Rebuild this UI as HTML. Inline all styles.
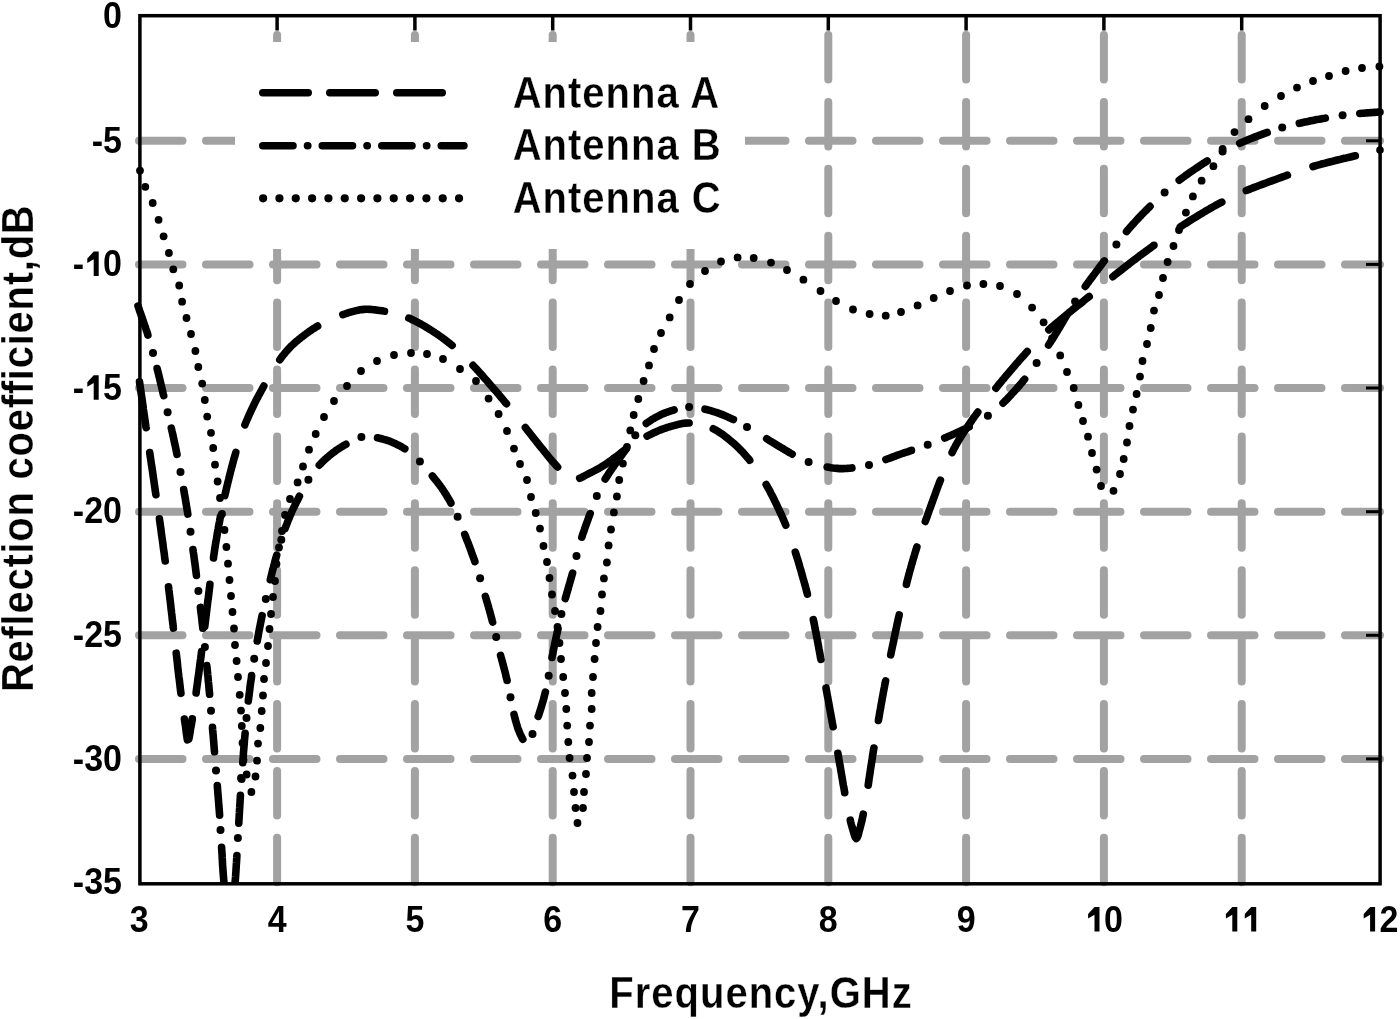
<!DOCTYPE html>
<html><head><meta charset="utf-8"><style>
html,body{margin:0;padding:0;background:#fff;}
svg{display:block;will-change:transform;}
text{font-family:"Liberation Sans",sans-serif;font-weight:bold;fill:#000;}
</style></head><body>
<svg width="1400" height="1019" viewBox="0 0 1400 1019">
<rect width="1400" height="1019" fill="#fff"/>
<g stroke="#a2a2a2" stroke-width="8" fill="none" stroke-linecap="round">
<g stroke-dasharray="43.5 23.5"><path d="M139,140.8 H1380"/><path d="M139,264.4 H1380"/><path d="M139,388.0 H1380"/><path d="M139,511.7 H1380"/><path d="M139,635.3 H1380"/><path d="M139,758.9 H1380"/></g>
<g stroke-dasharray="44.5 22.4"><path d="M277.1,35 V884"/><path d="M414.9,35 V884"/><path d="M552.7,35 V884"/><path d="M690.5,35 V884"/><path d="M828.3,35 V884"/><path d="M966.1,35 V884"/><path d="M1103.9,35 V884"/><path d="M1241.7,35 V884"/></g>
</g>
<rect x="235" y="42" width="510" height="207" fill="#fff"/>
<g stroke="#000" stroke-width="3.5" fill="none">
<path d="M277.1,16 V30.5"/><path d="M414.9,16 V30.5"/><path d="M552.7,16 V30.5"/><path d="M690.5,16 V30.5"/><path d="M828.3,16 V30.5"/><path d="M966.1,16 V30.5"/><path d="M1103.9,16 V30.5"/><path d="M1241.7,16 V30.5"/><path stroke-width="3" d="M1380,140.8 H1366"/><path stroke-width="3" d="M1380,264.4 H1366"/><path stroke-width="3" d="M1380,388.0 H1366"/><path stroke-width="3" d="M1380,511.7 H1366"/><path stroke-width="3" d="M1380,635.3 H1366"/><path stroke-width="3" d="M1380,758.9 H1366"/>
</g>
<clipPath id="pc"><rect x="125" y="10" width="1270" height="875"/></clipPath>
<g clip-path="url(#pc)">
<g fill="none" stroke="#000" stroke-width="7.6" stroke-linecap="round" stroke-linejoin="round"><path d="M139.5,381.8L139.8,383.9L140.1,385.9L140.4,388.0L140.7,390.1L141.0,392.1L141.3,394.2L141.6,396.3L141.9,398.3L142.2,400.4L142.5,402.5L142.8,404.5L143.1,406.6L143.3,408.7L143.6,410.7L143.9,412.8L144.2,414.9L144.5,416.9L144.8,419.0L145.1,421.1L145.4,423.2L145.7,425.2L146.0,427.3L146.1,427.6"/><path d="M149.7,452.6L150.0,454.5L150.3,456.6L150.6,458.7L150.9,460.8L151.2,462.9L151.5,465.0L151.9,467.1L152.2,469.2L152.5,471.3L152.8,473.4L153.1,475.5L153.4,477.6L153.7,479.7L154.0,481.8L154.3,483.8L154.6,485.9L154.9,488.0L155.2,490.1L155.5,492.2L155.8,494.3L155.9,494.7"/><path d="M159.4,518.8L159.8,521.5L160.1,523.6L160.4,525.7L160.7,527.8L161.0,529.9L161.2,532.0L161.5,534.1L161.8,536.2L162.1,538.3L162.4,540.3L162.7,542.4L163.0,544.5L163.2,546.6L163.5,548.7L163.8,550.8L164.1,552.8L164.4,554.9L164.6,557.0L164.9,559.1L165.2,561.0"/><path d="M168.5,586.8L168.9,590.3L169.2,592.4L169.4,594.5L169.7,596.6L169.9,598.6L170.2,600.7L170.4,602.8L170.7,604.9L170.9,607.0L171.1,609.1L171.4,611.1L171.6,613.2L171.9,615.3L172.1,617.3L172.3,619.4L172.6,621.4L172.8,623.5L173.1,625.5L173.3,627.5L173.4,628.1"/><path d="M176.2,653.2L176.5,655.3L176.7,657.1L176.9,658.9L177.1,660.7L177.3,662.4L177.5,664.2L177.6,665.9L177.8,667.6L178.0,669.3L178.2,671.0L178.4,672.6L178.6,674.2L178.9,677.0L179.3,679.7L179.6,682.3L179.9,684.9L180.2,687.5L180.5,690.0L180.8,692.6L180.9,693.3"/><path d="M184.4,719.0L184.6,720.6L184.9,722.2L185.1,723.9L185.4,725.5L185.7,727.8L185.9,729.4L186.1,731.1L186.3,732.8L186.6,734.5L186.8,736.1L187.1,738.2L187.4,739.8L188.8,739.1L189.2,737.3L189.6,735.2L189.8,733.7L190.1,732.2L190.3,730.7L190.6,728.5L191.0,726.6L191.4,724.6L191.7,722.6L192.1,720.5L192.3,718.7"/><path d="M196.1,693.0L196.3,691.0L196.6,689.0L196.9,686.9L197.2,684.7L197.5,682.4L197.8,680.1L198.1,677.8L198.5,675.4L198.8,673.1L199.1,670.7L199.4,668.3L199.7,665.9L200.0,663.6L200.3,661.2L200.7,658.8L201.0,656.3L201.3,653.8L201.6,651.6"/><path d="M204.8,626.3L205.1,623.8L205.4,621.3L205.7,618.8L206.0,616.3L206.3,613.8L206.6,611.3L206.9,608.7L207.2,606.2L207.5,603.7L207.8,601.2L208.2,598.7L208.5,596.2L208.8,593.7L209.1,591.2L209.4,588.7L209.7,586.2L209.9,584.4"/><path d="M213.5,558.0L213.7,556.2L214.1,553.7L214.5,551.2L214.8,548.7L215.2,546.2L215.6,543.7L216.0,541.2L216.5,538.7L216.9,536.2L217.3,533.7L217.7,531.2L218.2,528.7L218.6,526.2L219.1,523.7L219.6,521.2L220.0,518.7L220.5,516.2L220.6,515.9"/><path d="M224.8,495.6L225.2,493.9L225.8,491.5L226.3,489.0L226.9,486.6L227.5,484.1L228.1,481.7L228.7,479.3L229.2,477.0L229.8,474.7L230.4,472.4L231.0,470.1L231.6,467.8L232.2,465.5L232.8,463.2L233.4,461.0L234.0,458.7L234.7,456.5L235.3,454.2L235.8,452.5"/><path d="M244.9,424.9L245.8,422.6L246.6,420.7L247.5,418.7L248.3,416.8L249.2,414.9L250.0,413.0L250.9,411.1L251.8,409.2L252.7,407.3L253.6,405.4L254.5,403.5L255.5,401.6L256.4,399.7L257.4,397.9L258.4,396.0L259.4,394.2L260.4,392.3L261.4,390.5L262.4,388.7L263.4,386.8L263.8,386.1"/><path d="M279.8,359.7L280.9,358.2L281.9,356.8L283.0,355.4L284.1,354.1L285.2,352.7L286.3,351.4L287.5,350.1L288.6,348.9L289.8,347.6L290.9,346.4L292.1,345.3L293.3,344.2L294.5,343.1L295.7,342.0L296.9,340.9L298.2,339.9L299.4,338.9L300.7,337.9L301.9,336.9L303.2,335.9L304.5,334.9L305.8,334.0L307.1,333.0L308.4,332.1L309.7,331.2L311.0,330.3L312.3,329.4L313.7,328.5L315.0,327.7L316.4,326.8L317.6,326.1"/><path d="M342.9,314.7L344.9,314.0L346.8,313.3L348.7,312.7L350.5,312.1L352.4,311.6L354.4,311.1L356.3,310.6L358.2,310.2L360.1,309.8L362.0,309.6L364.0,309.4L365.9,309.3L367.9,309.3L369.9,309.4L371.8,309.5L373.8,309.7L375.8,309.9L377.8,310.2L379.8,310.5L381.7,310.8L383.7,311.1L384.5,311.2"/><path d="M408.8,318.1L410.5,318.8L412.4,319.7L414.3,320.6L416.2,321.6L418.2,322.6L420.1,323.6L422.0,324.7L423.9,325.8L425.8,326.9L427.6,328.0L429.5,329.2L431.4,330.4L433.3,331.6L435.2,332.9L437.1,334.1L439.1,335.5L441.0,336.8L442.9,338.2L444.7,339.6L446.6,341.0L448.4,342.4L450.2,343.8L452.0,345.3L452.1,345.4"/><path d="M473.0,365.4L474.5,367.0L476.1,368.7L477.6,370.3L479.1,372.0L480.6,373.7L482.2,375.4L483.7,377.2L485.2,378.9L486.7,380.6L488.2,382.3L489.6,384.0L491.1,385.7L492.6,387.4L494.0,389.1L495.5,390.7L496.9,392.4L498.4,394.1L499.8,395.8L501.2,397.5L502.6,399.2L504.0,400.9L505.4,402.6L506.5,403.8"/><path d="M525.4,427.6L526.5,429.0L527.9,430.8L529.4,432.7L530.8,434.5L532.3,436.4L533.8,438.3L535.3,440.2L536.7,442.0L538.2,443.8L539.6,445.6L541.0,447.4L542.5,449.1L543.9,450.9L545.3,452.7L546.7,454.4L548.1,456.2L549.5,457.9L550.9,459.6L552.3,461.2L553.6,462.7L555.0,464.2L556.3,465.6L557.6,467.0"/><path d="M579.7,478.2L581.6,477.4L583.4,476.5L585.2,475.5L587.1,474.5L588.8,473.6L590.6,472.7L592.3,471.9L594.0,471.0L595.7,470.1L597.4,469.2L599.1,468.3L600.8,467.3L602.4,466.3L604.0,465.3L605.7,464.2L607.3,463.1L608.8,462.0L610.4,460.9L612.0,459.7L613.5,458.5L615.1,457.4L616.7,456.2L618.3,455.0L619.9,453.8L621.5,452.5L623.0,451.3L624.7,450.0L625.9,449.1"/><path d="M647.1,436.1L649.2,435.0L651.0,434.2L652.7,433.3L654.5,432.5L656.3,431.7L658.1,430.9L660.0,430.1L661.8,429.4L663.7,428.7L665.5,428.1L667.4,427.4L669.2,426.9L671.0,426.3L672.9,425.8L674.7,425.3L676.6,424.8L678.5,424.3L680.4,423.9L682.3,423.6L684.2,423.3L686.0,423.1L687.9,423.0L689.1,423.0"/><path d="M713.3,428.8L714.9,429.7L716.8,430.7L718.6,431.8L720.4,433.0L722.2,434.2L724.0,435.5L725.7,436.9L727.5,438.2L729.2,439.6L730.8,441.0L732.5,442.4L734.2,443.8L735.8,445.3L737.4,446.8L739.0,448.4L740.6,450.0L742.2,451.6L743.7,453.3L745.2,455.0L746.7,456.7L748.1,458.3L749.6,460.0L749.7,460.2"/><path d="M766.2,484.6L767.0,486.0L768.0,487.9L769.1,489.7L770.1,491.6L771.0,493.5L772.0,495.3L773.0,497.2L773.9,499.1L774.8,501.0L775.8,502.9L776.7,504.9L777.6,506.8L778.5,508.7L779.4,510.6L780.3,512.6L781.2,514.5L782.1,516.5L782.9,518.4L783.8,520.4L784.6,522.3L785.4,524.3L785.8,525.2"/><path d="M795.3,552.1L795.9,554.0L796.5,555.9L797.1,557.8L797.7,559.7L798.3,561.6L798.8,563.5L799.4,565.4L799.9,567.3L800.5,569.2L801.1,571.1L801.6,573.0L802.1,575.0L802.7,576.9L803.2,578.8L803.8,580.7L804.3,582.6L804.8,584.5L805.4,586.4L805.9,588.4L806.4,590.3L806.9,592.2L807.4,594.1"/><path d="M813.3,619.6L813.8,621.9L814.2,623.8L814.6,625.7L814.9,627.7L815.3,629.6L815.7,631.5L816.1,633.4L816.4,635.3L816.8,637.3L817.2,639.2L817.5,641.1L817.9,643.0L818.2,644.9L818.6,646.8L818.9,648.7L819.3,650.6L819.6,652.5L820.0,654.4L820.3,656.3L820.6,658.2L820.9,659.4"/><path d="M826.0,687.9L826.3,689.8L826.7,691.7L827.0,693.5L827.3,695.3L827.7,697.2L828.0,699.0L828.3,700.8L828.7,702.7L829.0,704.5L829.3,706.3L829.7,708.2L830.0,710.0L830.3,711.8L830.7,713.6L831.0,715.4L831.3,717.3L831.7,719.1L832.0,720.9L832.3,722.7L832.7,724.5L833.0,726.3L833.1,726.7"/><path d="M837.9,753.3L838.2,755.1L838.5,756.9L838.8,758.7L839.1,760.5L839.4,762.3L839.7,764.1L840.1,765.9L840.4,767.7L840.7,769.5L841.0,771.3L841.3,773.1L841.6,774.9L841.9,776.6L842.2,778.4L842.5,780.2L842.8,782.0L843.1,783.8L843.4,785.5L843.8,787.3L844.1,789.0L844.4,790.8L844.7,792.5L844.7,792.8"/><path d="M850.3,820.2L850.7,822.1L851.2,824.0L851.7,825.7L852.2,827.5L852.7,829.1L853.2,831.0L853.7,832.5L854.1,834.0L854.7,835.8L855.3,837.4L856.3,838.6L857.3,837.4L858.0,835.6L858.5,833.9L858.9,832.1L859.4,830.2L859.9,828.4L860.4,826.7L860.9,824.7L861.4,822.6L861.9,820.5L862.4,818.3L862.7,816.8L863.1,815.3L863.3,814.2"/><path d="M868.2,785.2L868.5,783.1L868.8,781.2L869.0,779.4L869.3,777.5L869.6,775.6L869.9,773.7L870.2,771.9L870.4,770.0L870.7,768.1L871.0,766.2L871.3,764.4L871.6,762.5L871.9,760.7L872.2,758.8L872.4,757.0L872.7,755.1L873.0,753.3L873.3,751.4L873.6,749.6L873.9,748.0"/><path d="M878.4,720.4L878.8,718.3L879.1,716.5L879.4,714.7L879.7,712.8L880.0,711.0L880.4,709.2L880.7,707.3L881.0,705.5L881.3,703.7L881.7,701.8L882.0,700.0L882.3,698.2L882.7,696.3L883.0,694.5L883.3,692.7L883.7,690.8L884.0,689.0L884.4,687.2L884.7,685.3L885.1,683.5L885.4,681.7L885.6,681.0"/><path d="M890.7,654.9L891.1,653.2L891.4,651.4L891.8,649.5L892.2,647.7L892.6,645.8L893.0,644.0L893.4,642.1L893.8,640.3L894.1,638.4L894.5,636.5L894.9,634.7L895.3,632.8L895.7,630.9L896.1,629.1L896.5,627.2L896.9,625.3L897.3,623.4L897.7,621.6L898.1,619.7L898.5,617.8L899.0,615.9L899.2,614.9"/><path d="M906.4,584.3L906.9,582.1L907.4,580.2L907.9,578.3L908.4,576.4L908.9,574.5L909.4,572.6L909.9,570.7L910.5,568.8L911.0,566.9L911.5,565.1L912.1,563.2L912.6,561.3L913.1,559.4L913.7,557.5L914.3,555.6L914.8,553.8L915.4,551.9L916.0,550.0L916.5,548.2L916.9,547.0"/><path d="M925.3,521.5L925.9,519.9L926.5,518.1L927.2,516.3L927.8,514.4L928.5,512.6L929.1,510.8L929.8,508.9L930.5,507.1L931.1,505.3L931.8,503.4L932.5,501.6L933.1,499.8L933.8,497.9L934.5,496.0L935.2,494.2L935.8,492.3L936.5,490.4L937.2,488.5L937.9,486.7L938.6,484.8L939.3,483.0L940.0,481.1L940.4,480.2"/><path d="M952.1,452.5L953.0,450.7L954.0,448.7L955.1,446.8L956.1,444.8L957.2,442.9L958.3,441.0L959.4,439.1L960.6,437.2L961.7,435.4L962.9,433.6L964.1,431.7L965.4,429.9L966.2,428.6L967.1,427.4L968.0,426.0L968.9,424.6L969.9,423.2L970.9,421.8L971.9,420.3L972.9,418.9L973.9,417.4L975.0,416.0L976.0,414.5L977.1,413.1L977.8,412.1"/><path d="M995.9,388.2L997.0,386.9L998.3,385.2L999.7,383.5L1001.1,381.8L1002.5,380.1L1004.0,378.4L1005.4,376.7L1006.8,375.0L1008.3,373.3L1009.7,371.6L1011.1,369.9L1012.6,368.2L1014.1,366.5L1015.5,364.8L1017.0,363.1L1018.5,361.4L1019.9,359.7L1021.4,358.0L1022.9,356.4L1024.4,354.7L1025.9,353.0L1027.2,351.6"/><path d="M1048.8,329.8L1050.6,328.2L1052.3,326.7L1054.1,325.2L1055.9,323.6L1057.7,322.1L1059.5,320.6L1061.3,319.1L1063.1,317.6L1064.9,316.1L1066.7,314.6L1068.5,313.1L1070.4,311.6L1072.2,310.1L1074.1,308.6L1075.9,307.1L1077.8,305.6L1079.6,304.2L1081.5,302.7L1083.4,301.2L1085.2,299.7L1087.0,298.2L1088.9,296.7L1089.2,296.5"/><path d="M1112.9,276.7L1114.7,275.2L1116.5,273.7L1118.3,272.3L1120.1,270.9L1122.0,269.4L1123.8,268.0L1125.7,266.5L1127.5,265.1L1129.4,263.7L1131.2,262.2L1133.1,260.8L1135.0,259.4L1136.8,258.0L1138.7,256.6L1140.6,255.1L1142.5,253.7L1144.5,252.3L1146.4,250.9L1148.3,249.5L1150.2,248.1L1152.1,246.7L1154.0,245.4L1154.0,245.3"/><path d="M1180.3,226.9L1182.2,225.6L1184.1,224.4L1186.0,223.2L1187.9,222.0L1189.8,220.7L1191.7,219.5L1193.7,218.3L1195.6,217.2L1197.5,216.0L1199.4,214.8L1201.3,213.7L1203.2,212.6L1205.1,211.4L1207.0,210.3L1208.9,209.2L1210.8,208.1L1212.7,207.0L1214.6,206.0L1216.5,204.9L1218.4,203.9L1220.3,202.9L1221.8,202.1"/><path d="M1246.3,190.5L1248.6,189.6L1250.5,188.9L1252.3,188.1L1254.2,187.4L1256.1,186.7L1257.9,186.0L1259.8,185.3L1261.7,184.6L1263.6,183.9L1265.5,183.2L1267.3,182.5L1269.2,181.8L1271.1,181.1L1273.1,180.4L1275.0,179.7L1276.9,179.0L1278.8,178.3L1280.7,177.6L1282.6,176.9L1284.5,176.2L1286.4,175.5L1287.4,175.2"/><path d="M1313.0,166.5L1314.8,166.0L1316.8,165.4L1318.7,164.9L1320.7,164.3L1322.7,163.8L1324.6,163.3L1326.6,162.8L1328.6,162.3L1330.6,161.8L1332.5,161.3L1334.5,160.8L1336.5,160.3L1338.5,159.8L1340.4,159.3L1342.4,158.8L1344.4,158.3L1346.4,157.9L1348.4,157.4L1350.4,157.0L1352.4,156.5L1354.3,156.0L1355.3,155.8"/><path d="M1380.0,150.0L1380.0,150.0"/><path d="M138.0,306.0L138.9,308.5L139.7,311.0L140.6,313.6L141.5,316.1L142.4,318.6L143.2,321.1L144.1,323.7L145.0,326.2L145.8,328.7L146.7,331.2L147.5,333.7L147.9,335.1"/><path d="M157.1,368.5L157.6,370.6L158.3,373.2L158.9,375.8L159.6,378.5L160.2,381.1L160.8,383.8L161.5,386.4L162.1,389.1L162.7,391.7L163.3,394.4L163.7,395.7"/><path d="M171.3,428.1L171.9,430.8L172.5,433.2L173.0,435.7L173.6,438.2L174.1,440.7L174.6,443.2L175.2,445.6L175.7,448.1L176.2,450.6L176.7,453.0L177.0,454.4"/><path d="M183.7,489.5L184.0,491.4L184.4,493.9L184.9,496.3L185.3,498.7L185.7,501.2L186.1,503.6L186.5,506.0L186.9,508.5L187.3,510.9L187.7,513.3L187.8,514.1"/><path d="M193.0,549.6L193.3,552.0L193.7,554.5L194.0,556.9L194.3,559.3L194.6,561.7L195.0,564.1L195.3,566.5L195.6,569.0L195.9,571.4L196.2,573.8L196.4,575.4"/><path d="M200.4,607.4L200.7,610.0L201.0,612.5L201.3,614.9L201.6,617.3L201.9,619.7L202.1,622.1L202.4,624.5L202.7,626.9L202.8,628.3"/><path d="M206.8,665.6L207.0,667.2L207.2,669.7L207.5,672.1L207.7,674.6L208.0,677.1L208.2,679.6L208.4,682.1L208.7,684.5L208.9,687.0L209.1,689.5L209.4,692.0L209.6,694.3"/><path d="M212.5,727.4L212.6,729.5L212.8,732.0L213.1,734.5L213.3,737.0L213.5,739.5L213.7,742.0L213.9,744.5L214.1,747.0L214.3,749.5L214.5,751.8"/><path d="M217.3,785.5L217.4,787.0L217.6,789.5L217.8,792.0L218.0,794.5L218.2,797.0L218.4,799.5L218.6,802.1L218.8,804.6L219.0,807.1L219.2,809.7L219.4,812.2L219.6,814.9L219.6,815.2"/><path d="M221.6,847.3L221.7,849.4L221.9,852.3L222.1,855.1L222.2,857.9L222.4,860.8L222.5,863.6L222.7,866.4L222.9,869.2L223.1,871.9L223.3,874.6L223.5,877.2L223.7,879.6L223.9,881.8L224.1,884.0L224.2,886.1L224.4,888.3L224.7,890.4L224.9,892.4L225.1,894.5L225.3,896.5L225.6,898.5L225.8,900.4L225.9,901.2"/><path d="M233.1,901.2L233.3,899.6L233.5,897.9L233.7,896.1L233.9,894.3L234.1,892.4L234.3,890.6L234.5,888.7L234.7,886.8L234.8,884.9L235.0,883.0L235.2,881.0L235.4,878.7L235.6,876.5L235.7,874.2L235.9,871.9L236.0,869.5L236.2,867.2L236.3,864.8L236.5,862.5L236.6,860.1L236.8,857.7L236.9,855.6"/><path d="M238.8,823.1L238.9,820.6L239.1,818.1L239.2,815.6L239.4,813.0L239.5,810.5L239.7,808.0L239.8,805.4L240.0,802.9L240.1,800.4L240.3,797.9L240.4,795.4L240.4,795.3"/><path d="M242.8,762.7L242.9,761.2L243.1,758.7L243.3,756.3L243.4,753.8L243.6,751.3L243.8,748.8L244.0,746.4L244.2,743.9L244.4,741.5L244.6,739.0L244.8,736.5L245.1,734.1L245.1,733.3"/><path d="M248.3,701.0L248.5,699.3L248.8,697.0L249.1,694.8L249.4,692.5L249.7,690.3L249.9,688.1L250.2,685.8L250.5,683.6L250.8,681.4L251.2,679.2L251.5,677.0L251.6,675.6"/><path d="M257.2,641.0L257.5,639.4L257.9,637.3L258.3,635.2L258.6,633.2L259.0,631.1L259.4,629.0L259.8,627.0L260.2,625.0L260.6,623.0L261.0,621.0L261.4,619.0L261.8,617.0L262.1,615.6"/><path d="M270.3,579.7L270.8,577.7L271.3,575.6L271.8,573.6L272.3,571.5L272.9,569.4L273.4,567.3L273.9,565.3L274.5,563.2L275.0,561.1L275.6,559.1L276.2,557.0L276.7,555.2"/><path d="M285.2,528.4L285.7,526.8L286.4,525.1L287.1,523.3L287.7,521.6L288.4,519.9L289.1,518.2L289.8,516.5L290.5,514.8L291.2,513.2L291.9,511.6L292.6,510.0L293.3,508.5L294.0,507.1L294.7,505.7L295.4,504.2L296.1,502.8L296.8,501.4L297.5,500.1L298.2,498.7L298.9,497.3L299.4,496.3"/><path d="M319.3,465.1L320.5,463.9L321.6,462.7L322.7,461.6L323.8,460.5L325.0,459.4L326.2,458.4L327.4,457.3L328.6,456.3L329.8,455.2L331.1,454.2L332.3,453.3L333.6,452.3L335.0,451.3L336.3,450.3L337.7,449.4L339.0,448.5L340.4,447.6L341.8,446.7L343.2,445.9L344.6,445.0L345.9,444.3"/><path d="M377.5,437.8L379.5,438.2L381.5,438.7L383.6,439.3L385.6,439.9L387.7,440.5L389.7,441.2L391.6,442.0L393.7,442.9L395.7,443.8L397.7,444.8L399.1,445.5L400.4,446.2L401.7,446.9L403.6,448.1L404.8,448.8"/><path d="M432.4,476.0L433.7,477.6L434.7,478.9L435.7,480.1L436.7,481.3L437.7,482.6L438.7,483.9L439.7,485.2L440.6,486.5L441.6,487.8L442.5,489.2L443.5,490.6L444.4,492.1L445.4,493.6L446.4,495.1L447.3,496.7L448.2,498.2L449.2,499.8L450.1,501.4L450.9,503.0L450.9,503.0"/><path d="M464.7,534.4L465.4,536.1L466.0,537.7L466.6,539.3L467.2,540.8L467.9,542.4L468.5,544.0L469.1,545.6L469.7,547.2L470.3,548.8L470.9,550.4L471.4,552.1L472.0,553.7L472.6,555.3L473.2,556.9L473.8,558.6L474.4,560.2L474.9,561.6"/><path d="M485.4,596.5L486.0,598.5L486.5,600.2L487.0,601.8L487.5,603.5L488.0,605.2L488.5,606.9L488.9,608.5L489.4,610.2L489.8,611.8L490.3,613.3L490.7,614.9L491.1,616.4L491.5,618.0L491.9,619.5L492.3,621.0L492.6,622.0"/><path d="M500.6,655.5L501.1,657.4L501.6,658.9L502.0,660.4L502.4,661.9L502.8,663.4L503.2,665.0L503.6,666.5L504.0,668.0L504.4,669.5L504.8,671.1L505.2,672.6L505.6,674.2L505.9,675.7L506.3,677.2L506.7,678.8L507.1,680.4L507.1,680.5"/><path d="M514.0,714.4L514.6,716.7L515.0,718.3L515.4,720.0L515.9,721.6L516.3,723.2L516.8,724.8L517.3,726.3L517.7,727.8L518.4,729.6L519.1,731.3L519.7,732.9L520.4,734.5L521.1,736.0L521.8,737.4L522.5,738.8L522.8,739.2"/><path d="M538.2,716.4L538.9,714.5L539.5,712.6L540.1,710.7L540.7,708.8L541.3,706.8L541.9,704.8L542.5,702.7L543.0,701.2L543.4,699.7L543.8,698.2L544.2,696.7L544.6,695.1L545.0,693.6L545.4,692.1"/><path d="M552.0,657.4L552.3,655.7L552.7,654.0L553.0,652.3L553.3,650.6L553.7,649.0L554.0,647.3L554.4,645.6L554.7,643.9L555.0,642.3L555.4,640.7L555.7,639.1L556.1,637.5L556.4,635.9L556.8,634.3L557.2,632.7L557.5,631.1L557.9,629.5L558.0,629.1"/><path d="M565.3,598.5L565.7,597.0L566.2,595.5L566.6,594.0L567.0,592.5L567.5,591.0L567.9,589.5L568.3,588.1L568.7,586.6L569.3,584.5L569.9,582.5L570.4,580.6L571.0,578.6L571.6,576.7L572.1,574.7L572.6,573.1"/><path d="M581.8,537.2L582.4,535.5L583.0,533.5L583.7,531.6L584.4,529.7L585.0,527.7L585.7,525.8L586.4,523.9L587.1,522.0L587.8,520.2L588.4,518.3L589.1,516.4L589.8,514.6L590.2,513.6"/><path d="M605.2,479.1L606.2,477.5L607.1,476.1L608.0,474.7L608.9,473.2L609.9,471.8L610.9,470.4L611.8,469.0L612.8,467.6L613.8,466.2L614.7,464.8L615.7,463.4L616.7,462.0L617.7,460.6L618.7,459.3L619.7,457.9L620.7,456.5L621.7,455.1L622.7,453.8L623.6,452.4L624.6,451.1L625.6,449.8L626.0,449.2"/><path d="M646.3,423.4L647.8,422.3L649.6,421.1L651.5,419.8L652.8,419.0L654.1,418.3L655.4,417.5L656.7,416.8L658.7,415.8L660.6,414.8L662.6,413.9L664.6,413.1L666.7,412.3L668.8,411.6L670.8,410.9L672.8,410.3L674.1,409.9"/><path d="M705.0,409.2L706.5,409.5L708.6,410.1L710.7,410.7L712.8,411.3L714.9,412.0L717.0,412.7L719.0,413.4L721.0,414.1L723.0,414.9L725.0,415.7L727.0,416.6L728.9,417.5L730.8,418.4L732.7,419.3L733.4,419.6"/><path d="M766.7,438.8L768.4,439.8L769.7,440.7L771.1,441.5L772.4,442.3L773.8,443.1L775.1,443.9L776.4,444.8L777.8,445.6L779.1,446.4L781.0,447.5L782.9,448.6L784.7,449.7L786.5,450.8L788.4,451.9L790.2,453.0L792.1,454.0L792.2,454.1"/><path d="M827.2,467.0L828.9,467.3L831.0,467.7L833.1,468.0L835.2,468.2L837.3,468.4L839.3,468.6L841.3,468.6L843.2,468.6L845.2,468.5L847.1,468.4L849.0,468.2L850.9,468.1L851.9,467.9"/><path d="M885.9,459.5L887.8,458.8L889.8,458.1L891.7,457.4L893.7,456.7L895.6,455.9L897.6,455.2L899.6,454.5L901.5,453.8L903.5,453.1L905.5,452.4L907.5,451.8L909.5,451.1L911.4,450.4L911.5,450.4"/><path d="M944.7,438.0L946.1,437.4L948.0,436.6L950.0,435.8L951.9,434.9L953.8,434.1L955.7,433.2L957.7,432.3L959.6,431.4L961.6,430.5L963.7,429.5L965.7,428.6L967.6,427.6L969.1,426.9"/><path d="M1003.0,403.1L1004.2,401.9L1005.3,400.8L1006.4,399.7L1007.5,398.6L1008.6,397.4L1009.7,396.3L1010.8,395.1L1011.8,394.0L1012.9,392.8L1014.0,391.6L1015.0,390.5L1016.1,389.3L1017.1,388.1L1018.2,386.9L1019.2,385.7L1020.2,384.5L1021.3,383.3L1022.3,382.1L1023.3,380.8L1024.3,379.6L1024.6,379.2"/><path d="M1048.6,345.0L1049.7,343.3L1050.6,341.9L1051.5,340.5L1052.4,339.1L1053.3,337.7L1054.2,336.3L1055.0,334.9L1055.9,333.4L1056.8,332.0L1057.6,330.7L1058.4,329.3L1059.3,327.9L1060.1,326.5L1060.9,325.1L1061.7,323.8L1062.5,322.4L1063.3,321.0L1064.1,319.6L1064.9,318.3L1065.7,317.0L1066.5,315.6L1066.5,315.6"/><path d="M1085.3,286.4L1086.3,285.0L1087.2,283.7L1088.2,282.4L1089.1,281.2L1090.0,279.9L1091.0,278.6L1092.0,277.3L1092.9,276.0L1093.9,274.7L1094.8,273.5L1095.7,272.2L1096.7,270.9L1097.7,269.7L1098.6,268.4L1099.6,267.1L1100.5,265.9L1101.5,264.6L1102.5,263.4L1103.4,262.1L1104.3,260.9L1104.3,260.9"/><path d="M1126.5,231.6L1127.8,230.0L1128.9,228.8L1129.9,227.6L1131.0,226.4L1132.1,225.1L1133.2,223.9L1134.3,222.7L1135.4,221.5L1136.5,220.3L1137.6,219.1L1138.7,217.9L1139.8,216.7L1141.0,215.5L1142.1,214.3L1143.3,213.1L1144.5,211.9L1145.7,210.7L1146.9,209.5L1148.0,208.4L1149.2,207.2L1150.0,206.4"/><path d="M1179.2,180.3L1180.9,179.0L1182.2,178.0L1183.6,177.0L1184.9,176.1L1186.2,175.1L1187.6,174.1L1188.9,173.2L1190.3,172.2L1191.6,171.3L1193.0,170.4L1194.3,169.5L1195.6,168.6L1196.9,167.7L1198.3,166.8L1199.6,165.9L1200.9,165.0L1202.3,164.1L1203.6,163.2L1204.9,162.4L1206.3,161.5L1207.2,160.9"/><path d="M1239.7,143.3L1241.5,142.5L1243.5,141.6L1245.6,140.7L1247.7,139.9L1249.8,139.0L1251.8,138.2L1253.9,137.4L1255.9,136.6L1257.9,135.9L1259.9,135.1L1261.9,134.4L1263.9,133.6L1265.9,132.9L1267.2,132.5"/><path d="M1299.3,123.3L1300.8,123.0L1302.8,122.5L1304.8,122.1L1306.8,121.7L1308.8,121.3L1310.8,120.8L1312.8,120.4L1314.8,120.0L1316.8,119.6L1318.8,119.3L1320.9,118.9L1322.9,118.5L1324.9,118.2L1325.3,118.1"/><path d="M1359.8,113.5L1362.0,113.3L1363.8,113.2L1365.5,113.0L1367.3,112.9L1369.1,112.8L1371.0,112.6L1372.8,112.5L1374.6,112.4L1376.4,112.3L1378.2,112.1L1380.0,112.0"/></g>
<g fill="#000"><circle cx="153.0" cy="352.9" r="4.0"/><circle cx="167.6" cy="412.3" r="4.0"/><circle cx="180.5" cy="472.0" r="4.0"/><circle cx="190.5" cy="531.8" r="4.0"/><circle cx="198.4" cy="590.9" r="4.0"/><circle cx="204.9" cy="646.9" r="4.0"/><circle cx="211.0" cy="710.7" r="4.0"/><circle cx="216.0" cy="770.4" r="4.0"/><circle cx="220.5" cy="829.9" r="4.0"/><circle cx="237.9" cy="837.9" r="4.0"/><circle cx="241.6" cy="779.0" r="4.0"/><circle cx="246.5" cy="718.0" r="4.0"/><circle cx="254.2" cy="658.7" r="4.0"/><circle cx="265.8" cy="598.9" r="4.0"/><circle cx="281.3" cy="539.8" r="4.0"/><circle cx="308.4" cy="479.8" r="4.0"/><circle cx="361.4" cy="437.1" r="4.0"/><circle cx="419.9" cy="461.5" r="4.0"/><circle cx="457.6" cy="516.8" r="4.0"/><circle cx="480.1" cy="578.3" r="4.0"/><circle cx="496.2" cy="637.0" r="4.0"/><circle cx="510.5" cy="697.3" r="4.0"/><circle cx="532.5" cy="733.9" r="4.0"/><circle cx="548.7" cy="675.7" r="4.0"/><circle cx="561.4" cy="614.1" r="4.0"/><circle cx="576.5" cy="556.1" r="4.0"/><circle cx="596.8" cy="496.0" r="4.0"/><circle cx="635.3" cy="435.3" r="4.0"/><circle cx="689.1" cy="407.0" r="4.0"/><circle cx="747.0" cy="427.0" r="4.0"/><circle cx="808.6" cy="462.0" r="4.0"/><circle cx="869.0" cy="465.0" r="4.0"/><circle cx="927.7" cy="444.7" r="4.0"/><circle cx="987.9" cy="415.8" r="4.0"/><circle cx="1036.6" cy="363.0" r="4.0"/><circle cx="1075.1" cy="301.4" r="4.0"/><circle cx="1116.4" cy="244.6" r="4.0"/><circle cx="1164.6" cy="192.5" r="4.0"/><circle cx="1222.6" cy="151.6" r="4.0"/><circle cx="1282.2" cy="127.6" r="4.0"/><circle cx="1342.6" cy="115.3" r="4.0"/><circle cx="140.0" cy="170.6" r="3.9"/><circle cx="145.3" cy="186.8" r="3.9"/><circle cx="152.7" cy="203.0" r="3.9"/><circle cx="158.6" cy="219.8" r="3.9"/><circle cx="163.6" cy="236.3" r="3.9"/><circle cx="168.9" cy="253.0" r="3.9"/><circle cx="173.3" cy="269.3" r="3.9"/><circle cx="179.2" cy="285.5" r="3.9"/><circle cx="182.1" cy="301.7" r="3.9"/><circle cx="186.5" cy="318.0" r="3.9"/><circle cx="191.0" cy="334.0" r="3.9"/><circle cx="195.4" cy="351.0" r="3.9"/><circle cx="198.3" cy="367.0" r="3.9"/><circle cx="202.2" cy="383.6" r="3.9"/><circle cx="204.8" cy="400.0" r="3.9"/><circle cx="207.2" cy="416.6" r="3.9"/><circle cx="211.0" cy="432.8" r="3.9"/><circle cx="213.2" cy="448.0" r="3.9"/><circle cx="215.0" cy="464.7" r="3.9"/><circle cx="217.6" cy="481.5" r="3.9"/><circle cx="220.0" cy="498.0" r="3.9"/><circle cx="222.0" cy="514.0" r="3.9"/><circle cx="224.5" cy="530.0" r="3.9"/><circle cx="226.4" cy="547.0" r="3.9"/><circle cx="228.0" cy="563.7" r="3.9"/><circle cx="229.5" cy="580.0" r="3.9"/><circle cx="231.0" cy="596.0" r="3.9"/><circle cx="232.5" cy="612.0" r="3.9"/><circle cx="234.0" cy="628.5" r="3.9"/><circle cx="235.0" cy="645.0" r="3.9"/><circle cx="236.6" cy="661.0" r="3.9"/><circle cx="238.0" cy="677.0" r="3.9"/><circle cx="239.7" cy="694.8" r="3.9"/><circle cx="241.0" cy="710.6" r="3.9"/><circle cx="241.8" cy="726.0" r="3.9"/><circle cx="242.5" cy="743.0" r="3.9"/><circle cx="243.5" cy="760.0" r="3.9"/><circle cx="241.0" cy="778.0" r="3.9"/><circle cx="246.6" cy="774.5" r="3.9"/><circle cx="251.4" cy="792.0" r="3.9"/><circle cx="255.5" cy="776.5" r="3.9"/><circle cx="257.0" cy="760.7" r="3.9"/><circle cx="258.0" cy="743.6" r="3.9"/><circle cx="260.3" cy="728.0" r="3.9"/><circle cx="261.7" cy="711.0" r="3.9"/><circle cx="263.0" cy="695.5" r="3.9"/><circle cx="264.0" cy="679.0" r="3.9"/><circle cx="266.0" cy="663.0" r="3.9"/><circle cx="268.0" cy="646.0" r="3.9"/><circle cx="269.5" cy="629.0" r="3.9"/><circle cx="271.0" cy="614.0" r="3.9"/><circle cx="273.0" cy="597.0" r="3.9"/><circle cx="275.0" cy="581.0" r="3.9"/><circle cx="276.5" cy="564.0" r="3.9"/><circle cx="279.0" cy="547.5" r="3.9"/><circle cx="282.0" cy="531.0" r="3.9"/><circle cx="285.0" cy="515.0" r="3.9"/><circle cx="290.0" cy="499.0" r="3.9"/><circle cx="297.6" cy="482.4" r="3.9"/><circle cx="303.0" cy="466.5" r="3.9"/><circle cx="309.0" cy="449.7" r="3.9"/><circle cx="315.7" cy="434.0" r="3.9"/><circle cx="324.0" cy="417.0" r="3.9"/><circle cx="334.0" cy="401.0" r="3.9"/><circle cx="347.0" cy="386.0" r="3.9"/><circle cx="361.0" cy="371.0" r="3.9"/><circle cx="377.0" cy="361.0" r="3.9"/><circle cx="394.0" cy="355.0" r="3.9"/><circle cx="411.0" cy="353.0" r="3.9"/><circle cx="427.0" cy="354.0" r="3.9"/><circle cx="443.0" cy="359.0" r="3.9"/><circle cx="460.0" cy="369.0" r="3.9"/><circle cx="476.0" cy="381.0" r="3.9"/><circle cx="488.6" cy="398.6" r="3.9"/><circle cx="498.6" cy="414.0" r="3.9"/><circle cx="507.0" cy="431.0" r="3.9"/><circle cx="514.0" cy="448.6" r="3.9"/><circle cx="520.0" cy="464.0" r="3.9"/><circle cx="527.0" cy="480.0" r="3.9"/><circle cx="531.0" cy="497.0" r="3.9"/><circle cx="535.7" cy="513.0" r="3.9"/><circle cx="540.0" cy="528.6" r="3.9"/><circle cx="543.5" cy="546.0" r="3.9"/><circle cx="547.0" cy="562.0" r="3.9"/><circle cx="549.5" cy="578.0" r="3.9"/><circle cx="552.0" cy="594.5" r="3.9"/><circle cx="555.0" cy="611.0" r="3.9"/><circle cx="557.5" cy="627.0" r="3.9"/><circle cx="559.5" cy="643.0" r="3.9"/><circle cx="561.0" cy="659.0" r="3.9"/><circle cx="563.2" cy="677.0" r="3.9"/><circle cx="565.0" cy="693.0" r="3.9"/><circle cx="566.3" cy="709.0" r="3.9"/><circle cx="567.2" cy="725.6" r="3.9"/><circle cx="568.3" cy="742.0" r="3.9"/><circle cx="569.6" cy="758.0" r="3.9"/><circle cx="572.5" cy="775.6" r="3.9"/><circle cx="574.0" cy="792.0" r="3.9"/><circle cx="575.5" cy="808.0" r="3.9"/><circle cx="577.5" cy="823.0" r="3.9"/><circle cx="583.0" cy="808.0" r="3.9"/><circle cx="584.0" cy="792.0" r="3.9"/><circle cx="586.0" cy="774.0" r="3.9"/><circle cx="587.0" cy="758.0" r="3.9"/><circle cx="589.0" cy="742.0" r="3.9"/><circle cx="590.0" cy="725.6" r="3.9"/><circle cx="591.7" cy="709.0" r="3.9"/><circle cx="591.7" cy="693.0" r="3.9"/><circle cx="593.0" cy="677.0" r="3.9"/><circle cx="594.6" cy="659.0" r="3.9"/><circle cx="596.0" cy="643.0" r="3.9"/><circle cx="597.6" cy="627.0" r="3.9"/><circle cx="600.5" cy="611.0" r="3.9"/><circle cx="602.0" cy="594.5" r="3.9"/><circle cx="603.9" cy="578.4" r="3.9"/><circle cx="606.9" cy="562.5" r="3.9"/><circle cx="608.6" cy="545.4" r="3.9"/><circle cx="611.0" cy="529.5" r="3.9"/><circle cx="613.9" cy="512.4" r="3.9"/><circle cx="616.9" cy="496.5" r="3.9"/><circle cx="619.2" cy="480.0" r="3.9"/><circle cx="622.9" cy="463.6" r="3.9"/><circle cx="627.0" cy="447.0" r="3.9"/><circle cx="630.3" cy="430.4" r="3.9"/><circle cx="633.7" cy="415.0" r="3.9"/><circle cx="638.3" cy="399.0" r="3.9"/><circle cx="643.6" cy="381.0" r="3.9"/><circle cx="649.0" cy="365.4" r="3.9"/><circle cx="654.0" cy="349.0" r="3.9"/><circle cx="661.0" cy="333.0" r="3.9"/><circle cx="669.7" cy="317.4" r="3.9"/><circle cx="679.0" cy="300.0" r="3.9"/><circle cx="690.0" cy="284.0" r="3.9"/><circle cx="705.0" cy="271.0" r="3.9"/><circle cx="721.0" cy="261.5" r="3.9"/><circle cx="737.6" cy="257.4" r="3.9"/><circle cx="753.7" cy="258.0" r="3.9"/><circle cx="771.0" cy="262.6" r="3.9"/><circle cx="787.0" cy="270.0" r="3.9"/><circle cx="803.4" cy="279.7" r="3.9"/><circle cx="820.5" cy="291.0" r="3.9"/><circle cx="836.0" cy="301.0" r="3.9"/><circle cx="853.0" cy="309.5" r="3.9"/><circle cx="869.6" cy="314.0" r="3.9"/><circle cx="885.7" cy="315.7" r="3.9"/><circle cx="901.0" cy="312.0" r="3.9"/><circle cx="917.6" cy="305.4" r="3.9"/><circle cx="933.7" cy="298.0" r="3.9"/><circle cx="950.0" cy="291.0" r="3.9"/><circle cx="967.0" cy="285.5" r="3.9"/><circle cx="983.4" cy="284.0" r="3.9"/><circle cx="1000.0" cy="286.0" r="3.9"/><circle cx="1017.0" cy="294.0" r="3.9"/><circle cx="1032.1" cy="307.6" r="3.9"/><circle cx="1043.6" cy="322.3" r="3.9"/><circle cx="1052.0" cy="338.5" r="3.9"/><circle cx="1060.2" cy="355.4" r="3.9"/><circle cx="1067.0" cy="372.0" r="3.9"/><circle cx="1073.7" cy="388.0" r="3.9"/><circle cx="1078.4" cy="405.0" r="3.9"/><circle cx="1083.0" cy="421.0" r="3.9"/><circle cx="1088.0" cy="436.7" r="3.9"/><circle cx="1092.0" cy="453.0" r="3.9"/><circle cx="1096.6" cy="469.6" r="3.9"/><circle cx="1101.0" cy="486.0" r="3.9"/><circle cx="1113.5" cy="490.8" r="3.9"/><circle cx="1120.0" cy="474.0" r="3.9"/><circle cx="1123.7" cy="459.0" r="3.9"/><circle cx="1127.0" cy="442.5" r="3.9"/><circle cx="1129.5" cy="426.0" r="3.9"/><circle cx="1133.0" cy="409.6" r="3.9"/><circle cx="1136.6" cy="394.0" r="3.9"/><circle cx="1140.0" cy="376.6" r="3.9"/><circle cx="1142.5" cy="361.0" r="3.9"/><circle cx="1147.0" cy="344.0" r="3.9"/><circle cx="1150.7" cy="328.0" r="3.9"/><circle cx="1154.0" cy="310.6" r="3.9"/><circle cx="1159.0" cy="295.0" r="3.9"/><circle cx="1163.0" cy="278.0" r="3.9"/><circle cx="1167.6" cy="262.0" r="3.9"/><circle cx="1173.5" cy="246.0" r="3.9"/><circle cx="1179.0" cy="230.0" r="3.9"/><circle cx="1185.9" cy="212.6" r="3.9"/><circle cx="1192.9" cy="196.4" r="3.9"/><circle cx="1201.6" cy="180.7" r="3.9"/><circle cx="1213.4" cy="166.2" r="3.9"/><circle cx="1222.6" cy="148.9" r="3.9"/><circle cx="1234.5" cy="132.1" r="3.9"/><circle cx="1248.5" cy="119.2" r="3.9"/><circle cx="1264.7" cy="106.0" r="3.9"/><circle cx="1281.0" cy="96.0" r="3.9"/><circle cx="1297.0" cy="87.6" r="3.9"/><circle cx="1313.0" cy="81.0" r="3.9"/><circle cx="1329.0" cy="76.0" r="3.9"/><circle cx="1345.6" cy="71.0" r="3.9"/><circle cx="1362.0" cy="68.0" r="3.9"/><circle cx="1379.4" cy="66.5" r="3.9"/></g>
</g>
<rect x="139.9" y="15.7" width="1240.2" height="868.1" fill="none" stroke="#000" stroke-width="3.5"/>
<g fill="none" stroke="#000" stroke-width="7.4" stroke-linecap="round">
<path d="M262.7,92.8 H445.8" stroke-dasharray="45.6 21.4"/>
<path d="M262.7,145.7 H464" stroke-dasharray="30.4 14.3 0.5 14.3"/>
<path d="M263.1,198.3 H463" stroke-width="8.2" stroke-dasharray="0 16.33"/>
</g>
<g font-size="40px" letter-spacing="1.0" stroke="#fff" stroke-width="0.3">
<text transform="translate(512.7,107.5) scale(1,1.09)">Antenna A</text>
<text transform="translate(512.7,160) scale(1,1.09)">Antenna B</text>
<text transform="translate(512.7,212.5) scale(1,1.09)">Antenna C</text>
</g>
<g font-size="34px" fill="#000"><text transform="translate(103.10,27.60) scale(1,1.09)">0</text><text transform="translate(91.77,152.50) scale(1,1.09)">-</text><text transform="translate(103.10,152.50) scale(1,1.09)">5</text><text transform="translate(72.87,276.12) scale(1,1.09)">-</text><path transform="translate(84.19,276.12)" d="M14.5,0V-24.6H9.5L3.1,-17.5V-13.1L9.5,-16.8V0Z"/><text transform="translate(103.10,276.12) scale(1,1.09)">0</text><text transform="translate(72.87,399.74) scale(1,1.09)">-</text><path transform="translate(84.19,399.74)" d="M14.5,0V-24.6H9.5L3.1,-17.5V-13.1L9.5,-16.8V0Z"/><text transform="translate(103.10,399.74) scale(1,1.09)">5</text><text transform="translate(72.87,523.36) scale(1,1.09)">-</text><text transform="translate(84.19,523.36) scale(1,1.09)">2</text><text transform="translate(103.10,523.36) scale(1,1.09)">0</text><text transform="translate(72.87,646.98) scale(1,1.09)">-</text><text transform="translate(84.19,646.98) scale(1,1.09)">2</text><text transform="translate(103.10,646.98) scale(1,1.09)">5</text><text transform="translate(72.87,770.60) scale(1,1.09)">-</text><text transform="translate(84.19,770.60) scale(1,1.09)">3</text><text transform="translate(103.10,770.60) scale(1,1.09)">0</text><text transform="translate(72.87,894.22) scale(1,1.09)">-</text><text transform="translate(84.19,894.22) scale(1,1.09)">3</text><text transform="translate(103.10,894.22) scale(1,1.09)">5</text><text transform="translate(129.85,931.50) scale(1,1.09)">3</text><text transform="translate(267.65,931.50) scale(1,1.09)">4</text><text transform="translate(405.45,931.50) scale(1,1.09)">5</text><text transform="translate(543.25,931.50) scale(1,1.09)">6</text><text transform="translate(681.05,931.50) scale(1,1.09)">7</text><text transform="translate(818.85,931.50) scale(1,1.09)">8</text><text transform="translate(956.65,931.50) scale(1,1.09)">9</text><path transform="translate(1085.00,931.50)" d="M14.5,0V-24.6H9.5L3.1,-17.5V-13.1L9.5,-16.8V0Z"/><text transform="translate(1103.90,931.50) scale(1,1.09)">0</text><path transform="translate(1222.80,931.50)" d="M14.5,0V-24.6H9.5L3.1,-17.5V-13.1L9.5,-16.8V0Z"/><path transform="translate(1241.70,931.50)" d="M14.5,0V-24.6H9.5L3.1,-17.5V-13.1L9.5,-16.8V0Z"/><path transform="translate(1360.60,931.50)" d="M14.5,0V-24.6H9.5L3.1,-17.5V-13.1L9.5,-16.8V0Z"/><text transform="translate(1379.50,931.50) scale(1,1.09)">2</text></g>
<text transform="translate(761,1008) scale(1,1.09)" stroke="#fff" stroke-width="0.3" font-size="40px" letter-spacing="1.0" text-anchor="middle">Frequency,GHz</text>
<text transform="translate(33,448.3) rotate(-90) scale(1,1.09)" stroke="#fff" stroke-width="0.3" font-size="40px" letter-spacing="0.75" text-anchor="middle">Reflection coefficient,dB</text>
</svg>
</body></html>
